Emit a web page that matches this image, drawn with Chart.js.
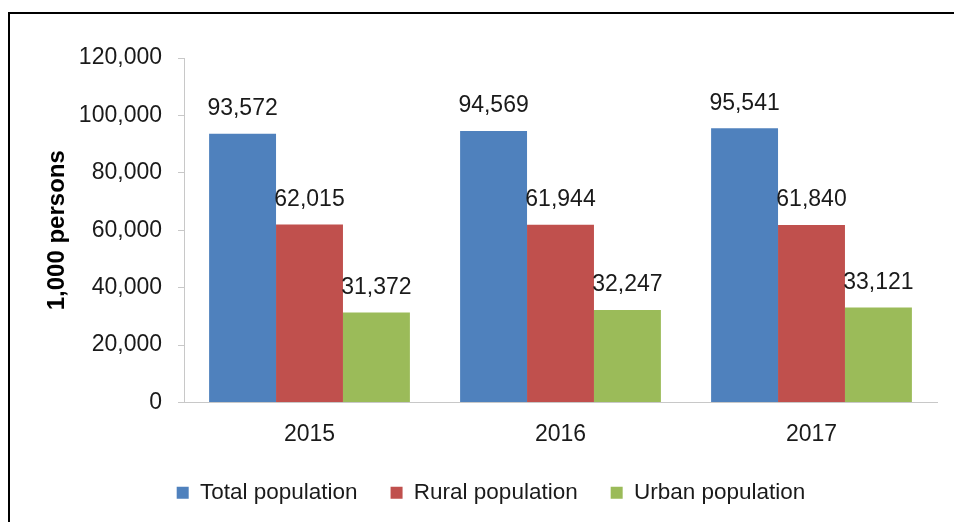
<!DOCTYPE html>
<html>
<head>
<meta charset="utf-8">
<script src="https://cdn.jsdelivr.net/npm/chart.js@4/dist/chart.umd.min.js"></script>
<style>
  html, body { margin: 0; padding: 0; background: #fff; overflow: hidden; }
  #frame { position: absolute; left: 8px; top: 12px; width: 1000px; height: 600px;
           border-left: 2px solid #000; border-top: 2px solid #000; }
  #chart { position: absolute; left: 0; top: 0; }
</style>
</head>
<body>
<div id="frame"></div>
<canvas id="chart" width="954" height="522"></canvas>
<script>
// data
var years = ["2015", "2016", "2017"];
var totalPop = [93572, 94569, 95541];
var ruralPop = [62015, 61944, 61840];
var urbanPop = [31372, 32247, 33121];
var seriesNames = ["Total population", "Rural population", "Urban population"];
var yTicks = [0, 20000, 40000, 60000, 80000, 100000, 120000];

var FONT = "'Liberation Sans', Arial, sans-serif";
var fmt = function(v) { return v.toLocaleString("en-US"); };

// simple value labels above each bar
var barLabels = {
  id: "barLabels",
  afterDatasetsDraw: function(chart) {
    var ctx = chart.ctx;
    ctx.save();
    ctx.font = "23px " + FONT;
    ctx.fillStyle = "#1a1a1a";
    ctx.textAlign = "center";
    ctx.textBaseline = "middle";
    chart.data.datasets.forEach(function(ds, i) {
      chart.getDatasetMeta(i).data.forEach(function(el, j) {
        ctx.fillText(fmt(ds.data[j]), el.x, el.y - 25);
      });
    });
    ctx.restore();
  }
};

new Chart(document.getElementById("chart"), {
  type: "bar",
  data: {
    labels: years,
    datasets: [
      { label: seriesNames[0], data: totalPop, backgroundColor: "#4F81BD" },
      { label: seriesNames[1], data: ruralPop, backgroundColor: "#C0504D" },
      { label: seriesNames[2], data: urbanPop, backgroundColor: "#9BBB59" }
    ]
  },
  options: {
    responsive: false,
    animation: false,
    devicePixelRatio: 1,
    layout: { padding: { left: 45, right: 17, top: 58, bottom: 8 } },
    datasets: { bar: { categoryPercentage: 0.8, barPercentage: 1.0 } },
    plugins: {
      tooltip: { enabled: false },
      legend: {
        position: "bottom",
        maxHeight: 73,
        labels: {
          color: "#1a1a1a",
          font: { family: FONT, size: 22.5 },
          boxWidth: 12,
          boxHeight: 12,
          padding: 33
        }
      }
    },
    scales: {
      x: {
        grid: { drawOnChartArea: false, drawTicks: false },
        border: { display: true, color: "#c8c8c8", width: 1 },
        ticks: { color: "#1a1a1a", font: { family: FONT, size: 23 }, padding: 18 },
        afterFit: function(scale) { scale.height = 46; }
      },
      y: {
        min: 0,
        max: 120000,
        afterBuildTicks: function(scale) {
          scale.ticks = yTicks.map(function(v) { return { value: v }; });
        },
        grid: { drawOnChartArea: false, drawTicks: true, tickLength: 6, color: "#c8c8c8" },
        border: { display: true, color: "#c8c8c8", width: 1 },
        ticks: {
          color: "#1a1a1a",
          font: { family: FONT, size: 23 },
          padding: 16,
          callback: function(v) { return fmt(v); }
        },
        title: {
          display: true,
          text: "1,000 persons",
          color: "#000",
          font: { family: FONT, size: 24, weight: "bold", lineHeight: 1 },
          padding: { top: 0, bottom: 0 }
        },
        afterFit: function(scale) { scale.width = 139; }
      }
    }
  },
  plugins: [barLabels]
});
</script>
</body>
</html>
